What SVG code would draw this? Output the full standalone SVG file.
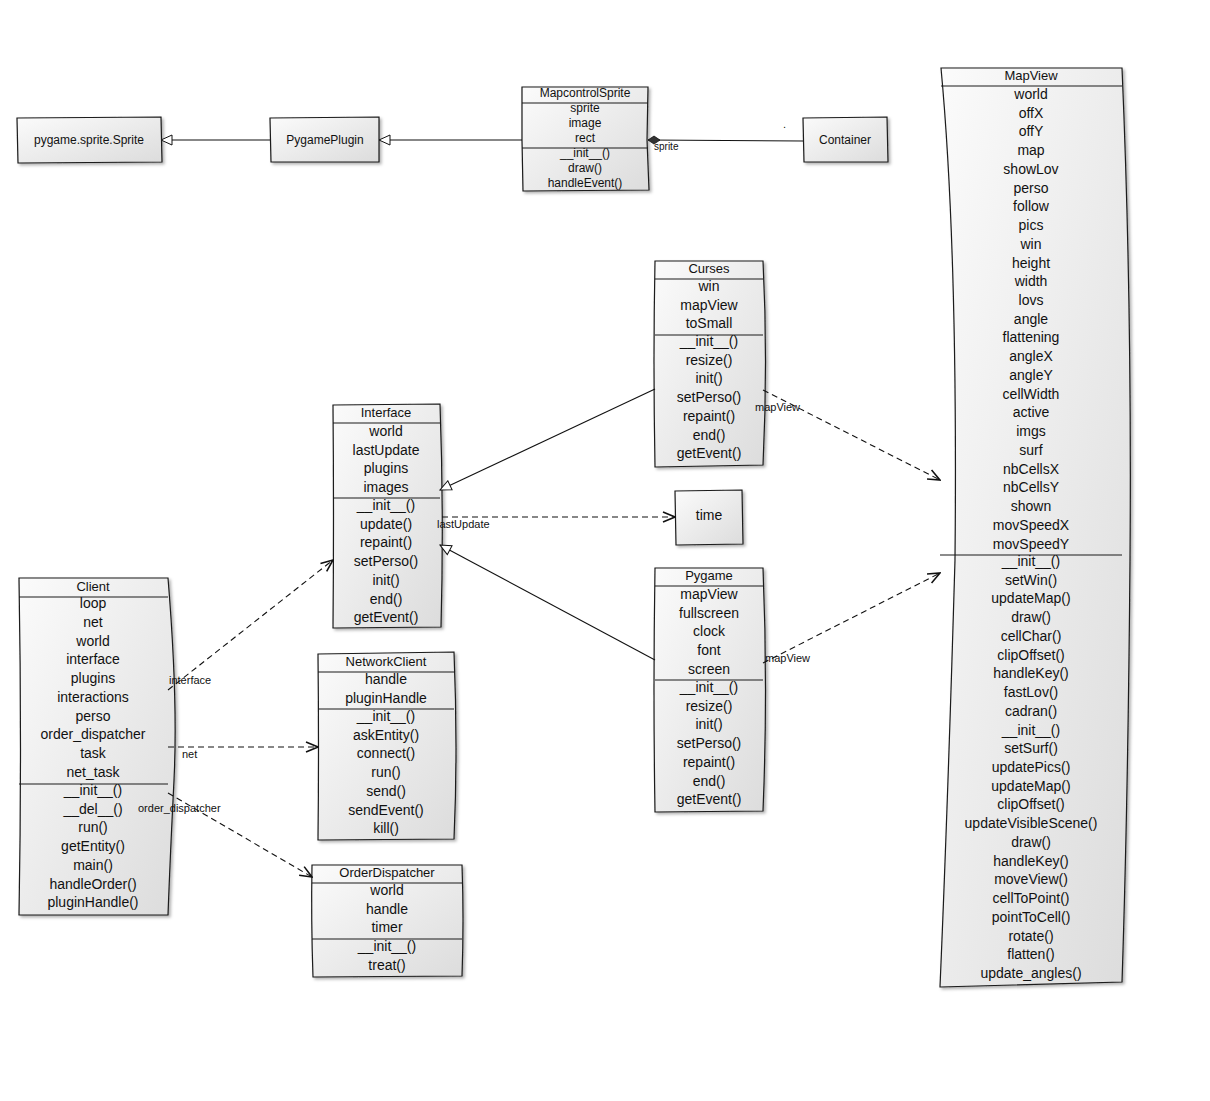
<svg xmlns="http://www.w3.org/2000/svg" width="1210" height="1101" viewBox="0 0 1210 1101">
<defs>
<linearGradient id="g" x1="0" y1="0" x2="1" y2="1">
<stop offset="0" stop-color="#fbfbfb"/>
<stop offset="1" stop-color="#dcdcdc"/>
</linearGradient>
<filter id="sh" x="-10%" y="-10%" width="130%" height="130%">
<feDropShadow dx="2" dy="2" stdDeviation="1.5" flood-color="#000" flood-opacity="0.3"/>
</filter>
<marker id="open" viewBox="0 0 14 12" refX="13" refY="6" markerWidth="14" markerHeight="12" markerUnits="userSpaceOnUse" orient="auto">
<path d="M1,1 L13,6 L1,11" fill="none" stroke="#111" stroke-width="1.6"/>
</marker>
<marker id="tri" viewBox="0 0 13 12" refX="12" refY="6" markerWidth="13" markerHeight="12" markerUnits="userSpaceOnUse" orient="auto">
<path d="M1,1 L12,6 L1,11 Z" fill="#fff" stroke="#111" stroke-width="1"/>
</marker>
<marker id="dia" viewBox="0 0 14 10" refX="13" refY="5" markerWidth="14" markerHeight="10" markerUnits="userSpaceOnUse" orient="auto">
<path d="M1,5 L7,1 L13,5 L7,9 Z" fill="#333" stroke="#111" stroke-width="0.8"/>
</marker>
</defs>
<style>
.box{fill:url(#g);stroke:#1a1a1a;stroke-width:1.2;filter:url(#sh)}
.dv{stroke:#1a1a1a;stroke-width:1.2;fill:none}
.t{font-family:"Liberation Sans",Arial,sans-serif;font-size:14px;text-anchor:middle;fill:#111}
.s{font-family:"Liberation Sans",Arial,sans-serif;font-size:12px;text-anchor:middle;fill:#111}
.lb{font-family:"Liberation Sans",Arial,sans-serif;font-size:11px;fill:#111}
.ln{stroke:#111;stroke-width:1.1;fill:none}
.dash{stroke:#111;stroke-width:1.1;fill:none;stroke-dasharray:6 4}
</style>
<rect width="1210" height="1101" fill="#fff"/>

<g id="n-sprite">
<path class="box" d="M17,118 L161,117 L162,162 L18,163 Z"/>
<text class="s" x="89" y="144">pygame.sprite.Sprite</text>
</g>

<g id="n-pygameplugin">
<path class="box" d="M270,118 L379,117 L379,162 L271,162 Z"/>
<text class="s" x="325" y="144">PygamePlugin</text>
</g>

<g id="n-mapcontrolsprite">
<path class="box" d="M522,87 L648,87 L647,140 L649,190 L523,191 L522,140 Z"/>
<line class="dv" x1="522" y1="103" x2="648" y2="103"/>
<line class="dv" x1="522" y1="148" x2="648" y2="148"/>
<text class="s" x="585" y="97">MapcontrolSprite</text>
<text class="s" x="585" y="112">sprite</text>
<text class="s" x="585" y="127">image</text>
<text class="s" x="585" y="142">rect</text>
<text class="s" x="585" y="157">__init__()</text>
<text class="s" x="585" y="172">draw()</text>
<text class="s" x="585" y="187">handleEvent()</text>
</g>

<g id="n-container">
<path class="box" d="M803,118 L887,117 L888,162 L804,162 Z"/>
<text class="s" x="845" y="144">Container</text>
</g>

<g id="n-mapview">
<path class="box" d="M941,68 L1122,68 Q1132,300 1130,560 Q1128,800 1122,982 L940,987 Q948,800 955,560 Q958,250 941,68 Z"/>
<line class="dv" x1="941" y1="86" x2="1122" y2="86"/>
<line class="dv" x1="940" y1="555" x2="1122" y2="555"/>
<text class="t" x="1031" y="80" style="font-size:13px">MapView</text>
<text class="t" x="1031" y="99"><tspan x="1031" dy="0">world</tspan><tspan x="1031" dy="18.73">offX</tspan><tspan x="1031" dy="18.73">offY</tspan><tspan x="1031" dy="18.73">map</tspan><tspan x="1031" dy="18.73">showLov</tspan><tspan x="1031" dy="18.73">perso</tspan><tspan x="1031" dy="18.73">follow</tspan><tspan x="1031" dy="18.73">pics</tspan><tspan x="1031" dy="18.73">win</tspan><tspan x="1031" dy="18.73">height</tspan><tspan x="1031" dy="18.73">width</tspan><tspan x="1031" dy="18.73">lovs</tspan><tspan x="1031" dy="18.73">angle</tspan><tspan x="1031" dy="18.73">flattening</tspan><tspan x="1031" dy="18.73">angleX</tspan><tspan x="1031" dy="18.73">angleY</tspan><tspan x="1031" dy="18.73">cellWidth</tspan><tspan x="1031" dy="18.73">active</tspan><tspan x="1031" dy="18.73">imgs</tspan><tspan x="1031" dy="18.73">surf</tspan><tspan x="1031" dy="18.73">nbCellsX</tspan><tspan x="1031" dy="18.73">nbCellsY</tspan><tspan x="1031" dy="18.73">shown</tspan><tspan x="1031" dy="18.73">movSpeedX</tspan><tspan x="1031" dy="18.73">movSpeedY</tspan></text>
<text class="t" x="1031" y="566"><tspan x="1031" dy="0">__init__()</tspan><tspan x="1031" dy="18.73">setWin()</tspan><tspan x="1031" dy="18.73">updateMap()</tspan><tspan x="1031" dy="18.73">draw()</tspan><tspan x="1031" dy="18.73">cellChar()</tspan><tspan x="1031" dy="18.73">clipOffset()</tspan><tspan x="1031" dy="18.73">handleKey()</tspan><tspan x="1031" dy="18.73">fastLov()</tspan><tspan x="1031" dy="18.73">cadran()</tspan><tspan x="1031" dy="18.73">__init__()</tspan><tspan x="1031" dy="18.73">setSurf()</tspan><tspan x="1031" dy="18.73">updatePics()</tspan><tspan x="1031" dy="18.73">updateMap()</tspan><tspan x="1031" dy="18.73">clipOffset()</tspan><tspan x="1031" dy="18.73">updateVisibleScene()</tspan><tspan x="1031" dy="18.73">draw()</tspan><tspan x="1031" dy="18.73">handleKey()</tspan><tspan x="1031" dy="18.73">moveView()</tspan><tspan x="1031" dy="18.73">cellToPoint()</tspan><tspan x="1031" dy="18.73">pointToCell()</tspan><tspan x="1031" dy="18.73">rotate()</tspan><tspan x="1031" dy="18.73">flatten()</tspan><tspan x="1031" dy="18.73">update_angles()</tspan></text>
</g>

<g id="n-curses">
<path class="box" d="M655,261 L763,261 Q768,360 763,465 L655,467 Q653,360 655,261 Z"/>
<line class="dv" x1="655" y1="279" x2="763" y2="279"/>
<line class="dv" x1="655" y1="335" x2="763" y2="335"/>
<text class="t" x="709" y="273" style="font-size:13px">Curses</text>
<text class="t" x="709" y="291"><tspan x="709" dy="0">win</tspan><tspan x="709" dy="18.7">mapView</tspan><tspan x="709" dy="18.7">toSmall</tspan></text>
<text class="t" x="709" y="346"><tspan x="709" dy="0">__init__()</tspan><tspan x="709" dy="18.7">resize()</tspan><tspan x="709" dy="18.7">init()</tspan><tspan x="709" dy="18.7">setPerso()</tspan><tspan x="709" dy="18.7">repaint()</tspan><tspan x="709" dy="18.7">end()</tspan><tspan x="709" dy="18.7">getEvent()</tspan></text>
</g>

<g id="n-interface">
<path class="box" d="M333,405 L440,404 Q444,515 441,627 L333,628 Q334,515 333,405 Z"/>
<line class="dv" x1="333" y1="423" x2="440" y2="423"/>
<line class="dv" x1="333" y1="498" x2="440" y2="498"/>
<text class="t" x="386" y="417" style="font-size:13px">Interface</text>
<text class="t" x="386" y="436"><tspan x="386" dy="0">world</tspan><tspan x="386" dy="18.7">lastUpdate</tspan><tspan x="386" dy="18.7">plugins</tspan><tspan x="386" dy="18.7">images</tspan></text>
<text class="t" x="386" y="510"><tspan x="386" dy="0">__init__()</tspan><tspan x="386" dy="18.7">update()</tspan><tspan x="386" dy="18.7">repaint()</tspan><tspan x="386" dy="18.7">setPerso()</tspan><tspan x="386" dy="18.7">init()</tspan><tspan x="386" dy="18.7">end()</tspan><tspan x="386" dy="18.7">getEvent()</tspan></text>
</g>

<g id="n-time">
<path class="box" d="M675,491 L742,490 L743,544 L676,545 Z"/>
<text class="t" x="709" y="520">time</text>
</g>

<g id="n-pygame">
<path class="box" d="M655,568 L763,568 Q768,690 763,811 L655,812 Q653,690 655,568 Z"/>
<line class="dv" x1="655" y1="586" x2="763" y2="586"/>
<line class="dv" x1="655" y1="680" x2="763" y2="680"/>
<text class="t" x="709" y="580" style="font-size:13px">Pygame</text>
<text class="t" x="709" y="599"><tspan x="709" dy="0">mapView</tspan><tspan x="709" dy="18.7">fullscreen</tspan><tspan x="709" dy="18.7">clock</tspan><tspan x="709" dy="18.7">font</tspan><tspan x="709" dy="18.7">screen</tspan></text>
<text class="t" x="709" y="692"><tspan x="709" dy="0">__init__()</tspan><tspan x="709" dy="18.7">resize()</tspan><tspan x="709" dy="18.7">init()</tspan><tspan x="709" dy="18.7">setPerso()</tspan><tspan x="709" dy="18.7">repaint()</tspan><tspan x="709" dy="18.7">end()</tspan><tspan x="709" dy="18.7">getEvent()</tspan></text>
</g>

<g id="n-client">
<path class="box" d="M19,578 L168,578 Q178,700 174,780 Q170,860 168,915 L19,915 Q22,750 19,578 Z"/>
<line class="dv" x1="19" y1="597" x2="168" y2="597"/>
<line class="dv" x1="19" y1="784" x2="168" y2="784"/>
<text class="t" x="93" y="591" style="font-size:13px">Client</text>
<text class="t" x="93" y="608"><tspan x="93" dy="0">loop</tspan><tspan x="93" dy="18.75">net</tspan><tspan x="93" dy="18.75">world</tspan><tspan x="93" dy="18.75">interface</tspan><tspan x="93" dy="18.75">plugins</tspan><tspan x="93" dy="18.75">interactions</tspan><tspan x="93" dy="18.75">perso</tspan><tspan x="93" dy="18.75">order_dispatcher</tspan><tspan x="93" dy="18.75">task</tspan><tspan x="93" dy="18.75">net_task</tspan></text>
<text class="t" x="93" y="795"><tspan x="93" dy="0">__init__()</tspan><tspan x="93" dy="18.7">__del__()</tspan><tspan x="93" dy="18.7">run()</tspan><tspan x="93" dy="18.7">getEntity()</tspan><tspan x="93" dy="18.7">main()</tspan><tspan x="93" dy="18.7">handleOrder()</tspan><tspan x="93" dy="18.7">pluginHandle()</tspan></text>
</g>

<g id="n-networkclient">
<path class="box" d="M318,654 L454,652 Q458,750 454,839 L318,840 Q319,750 318,654 Z"/>
<line class="dv" x1="318" y1="672" x2="454" y2="672"/>
<line class="dv" x1="318" y1="709" x2="454" y2="709"/>
<text class="t" x="386" y="666" style="font-size:13px">NetworkClient</text>
<text class="t" x="386" y="684"><tspan x="386" dy="0">handle</tspan><tspan x="386" dy="18.7">pluginHandle</tspan></text>
<text class="t" x="386" y="721"><tspan x="386" dy="0">__init__()</tspan><tspan x="386" dy="18.7">askEntity()</tspan><tspan x="386" dy="18.7">connect()</tspan><tspan x="386" dy="18.7">run()</tspan><tspan x="386" dy="18.7">send()</tspan><tspan x="386" dy="18.7">sendEvent()</tspan><tspan x="386" dy="18.7">kill()</tspan></text>
</g>

<g id="n-orderdispatcher">
<path class="box" d="M312,865 L462,865 Q464,920 462,976 L313,977 Q311,920 312,865 Z"/>
<line class="dv" x1="312" y1="883" x2="462" y2="883"/>
<line class="dv" x1="312" y1="939" x2="462" y2="939"/>
<text class="t" x="387" y="877" style="font-size:13px">OrderDispatcher</text>
<text class="t" x="387" y="895"><tspan x="387" dy="0">world</tspan><tspan x="387" dy="18.7">handle</tspan><tspan x="387" dy="18.7">timer</tspan></text>
<text class="t" x="387" y="951"><tspan x="387" dy="0">__init__()</tspan><tspan x="387" dy="18.7">treat()</tspan></text>
</g>

<g id="connectors">
<path class="ln" d="M270,140 L161,140" marker-end="url(#tri)"/>
<path class="ln" d="M522,140 L379,140" marker-end="url(#tri)"/>
<path class="ln" d="M803,141 L648,140" marker-end="url(#dia)"/>
<text class="lb" x="654" y="150" style="font-size:10px">sprite</text>
<text class="lb" x="783" y="128">.</text>
<path class="ln" d="M655,389 L440,490" marker-end="url(#tri)"/>
<path class="ln" d="M655,660 L440,545" marker-end="url(#tri)"/>
<path class="dash" d="M442,517 L675,517" marker-end="url(#open)"/>
<text class="lb" x="437" y="528">lastUpdate</text>
<path class="dash" d="M763,390 L940,480" marker-end="url(#open)"/>
<text class="lb" x="755" y="411">mapView</text>
<path class="dash" d="M763,663 L940,573" marker-end="url(#open)"/>
<text class="lb" x="765" y="662">mapView</text>
<path class="dash" d="M168,690 L333,560" marker-end="url(#open)"/>
<text class="lb" x="169" y="684">interface</text>
<path class="dash" d="M168,747 L318,747" marker-end="url(#open)"/>
<text class="lb" x="182" y="758">net</text>
<path class="dash" d="M168,793 L312,877" marker-end="url(#open)"/>
<text class="lb" x="138" y="812">order_dispatcher</text>
</g>
</svg>
